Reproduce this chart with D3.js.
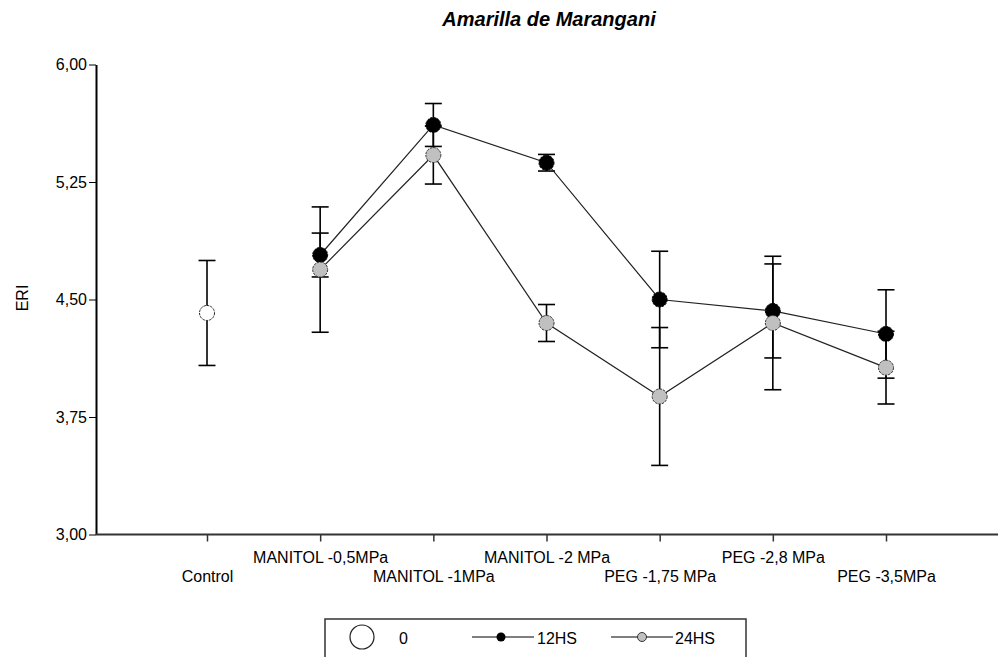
<!DOCTYPE html>
<html><head><meta charset="utf-8">
<script src="https://cdn.jsdelivr.net/npm/d3@7"></script>
<style>
body{margin:0;background:#fff}
svg{display:block}
text{font-family:"Liberation Sans",Arial,sans-serif;fill:#000}
</style>
</head><body>
<svg id="c" width="998" height="657"></svg>
<script>
// ---- data ----
const categories = ["Control","MANITOL -0,5MPa","MANITOL -1MPa","MANITOL -2 MPa","PEG -1,75 MPa","PEG -2,8 MPa","PEG -3,5MPa"];
const controlMean = [4.414, null, null, null, null, null, null];
const controlErr  = [0.335, null, null, null, null, null, null];
const hs12Mean = [null, 4.784, 5.614, 5.373, 4.500, 4.427, 4.280];
const hs12Err  = [null, 0.140, 0.137, 0.053, 0.308, 0.300, 0.282];
const hs24Mean = [null, 4.691, 5.422, 4.350, 3.881, 4.350, 4.065];
const hs24Err  = [null, 0.400, 0.185, 0.118, 0.440, 0.426, 0.232];
const yTicks = [3.00, 3.75, 4.50, 5.25, 6.00];
const seriesNames = ["0", "12HS", "24HS"];
const title = "Amarilla de Marangani";
const yLabel = "ERI";

// ---- layout ----
const W = 998, H = 657;
const axisLeftX = 96, axisRightX = 998, plotTop = 64.5, plotBottom = 534.5;
const svg = d3.select("#c");

const x = d3.scalePoint().domain(categories).range([207, 886]);
const y = d3.scaleLinear().domain([3, 6]).range([plotBottom, plotTop]);

// title
svg.append("text").attr("x", 549).attr("y", 26).attr("text-anchor", "middle")
  .style("font-size", "20px").style("font-weight", "bold").style("font-style", "italic")
  .text(title);

// y label
svg.append("text").attr("transform", "translate(28,298) rotate(-90)")
  .attr("text-anchor", "middle").style("font-size", "16px").text(yLabel);

// y axis
const yAxis = svg.append("g").attr("transform", `translate(${axisLeftX},0)`)
  .call(d3.axisLeft(y).tickValues(yTicks).tickSize(7).tickSizeOuter(0).tickPadding(2)
    .tickFormat(d => d.toFixed(2).replace(".", ",")));
yAxis.select(".domain").attr("stroke", "#000").attr("stroke-width", 2);
yAxis.selectAll(".tick line").attr("stroke", "#000").attr("stroke-width", 1);
yAxis.selectAll(".tick text").style("font-size", "16px").style("font-family", '"Liberation Sans",Arial,sans-serif').attr("fill", "#000");

// x axis
const xAxis = svg.append("g").attr("transform", `translate(0,${plotBottom})`)
  .call(d3.axisBottom(x).tickSize(7).tickSizeOuter(0));
xAxis.select(".domain").remove();
xAxis.append("line").attr("x1", axisLeftX).attr("x2", axisRightX).attr("y1", 0).attr("y2", 0)
  .attr("stroke", "#333").attr("stroke-width", 2);
xAxis.selectAll(".tick line").attr("stroke", "#333").attr("stroke-width", 1.5);
xAxis.selectAll(".tick text")
  .style("font-size", "16px").style("font-family", '"Liberation Sans",Arial,sans-serif').attr("fill", "#000")
  .attr("dy", null)
  .attr("y", (d, i) => i % 2 === 0 ? 47 : 28);

// error bars
const capHalf = 8.5;
function errorBars(means, errs, cls) {
  const data = categories.map((c, i) => ({c, m: means[i], e: errs[i]})).filter(d => d.m != null);
  const g = svg.append("g").attr("class", cls).attr("stroke", "#000").attr("stroke-width", 1.6);
  data.forEach(d => {
    const cx = x(d.c), y1 = y(d.m + d.e), y2 = y(d.m - d.e);
    g.append("line").attr("x1", cx).attr("x2", cx).attr("y1", y1).attr("y2", y2);
    g.append("line").attr("x1", cx - capHalf).attr("x2", cx + capHalf).attr("y1", y1).attr("y2", y1);
    g.append("line").attr("x1", cx - capHalf).attr("x2", cx + capHalf).attr("y1", y2).attr("y2", y2);
  });
}
errorBars(controlMean, controlErr, "eb0");
errorBars(hs12Mean, hs12Err, "eb12");
errorBars(hs24Mean, hs24Err, "eb24");

// lines
const line = d3.line().defined(d => d.m != null).x(d => x(d.c)).y(d => y(d.m));
function series(means) { return categories.map((c, i) => ({c, m: means[i]})); }
svg.append("path").datum(series(hs12Mean)).attr("d", line).attr("fill", "none").attr("stroke", "#222").attr("stroke-width", 1.2);
svg.append("path").datum(series(hs24Mean)).attr("d", line).attr("fill", "none").attr("stroke", "#222").attr("stroke-width", 1.2);

// markers
function markers(means, fill, stroke, r) {
  svg.append("g").selectAll("circle").data(series(means).filter(d => d.m != null)).join("circle")
    .attr("cx", d => x(d.c)).attr("cy", d => y(d.m)).attr("r", r)
    .attr("fill", fill).attr("stroke", stroke).attr("stroke-width", 1)
    .attr("stroke-dasharray", "2.5,1");
}
markers(controlMean, "#fff", "#222", 7.5);
markers(hs12Mean, "#000", "#000", 7.5);
markers(hs24Mean, "#c0c0c0", "#333", 7.5);

// legend
const lg = svg.append("g");
lg.append("rect").attr("x", 325).attr("y", 619).attr("width", 421).attr("height", 60)
  .attr("fill", "#fff").attr("stroke", "#333").attr("stroke-width", 1.5);
lg.append("circle").attr("cx", 362).attr("cy", 637).attr("r", 12).attr("fill", "#fff").attr("stroke", "#222").attr("stroke-width", 1.2);
lg.append("text").attr("x", 399).attr("y", 644).style("font-size", "16px").text(seriesNames[0]);
lg.append("line").attr("x1", 472).attr("x2", 534).attr("y1", 637).attr("y2", 637).attr("stroke", "#000").attr("stroke-width", 1.2);
lg.append("circle").attr("cx", 501).attr("cy", 637).attr("r", 4.5).attr("fill", "#000");
lg.append("text").attr("x", 537).attr("y", 644).style("font-size", "16px").text(seriesNames[1]);
lg.append("line").attr("x1", 611).attr("x2", 673).attr("y1", 637).attr("y2", 637).attr("stroke", "#000").attr("stroke-width", 1.2);
lg.append("circle").attr("cx", 642).attr("cy", 637).attr("r", 4.5).attr("fill", "#c0c0c0").attr("stroke", "#333").attr("stroke-width", 1);
lg.append("text").attr("x", 675).attr("y", 644).style("font-size", "16px").text(seriesNames[2]);
</script>
</body></html>
